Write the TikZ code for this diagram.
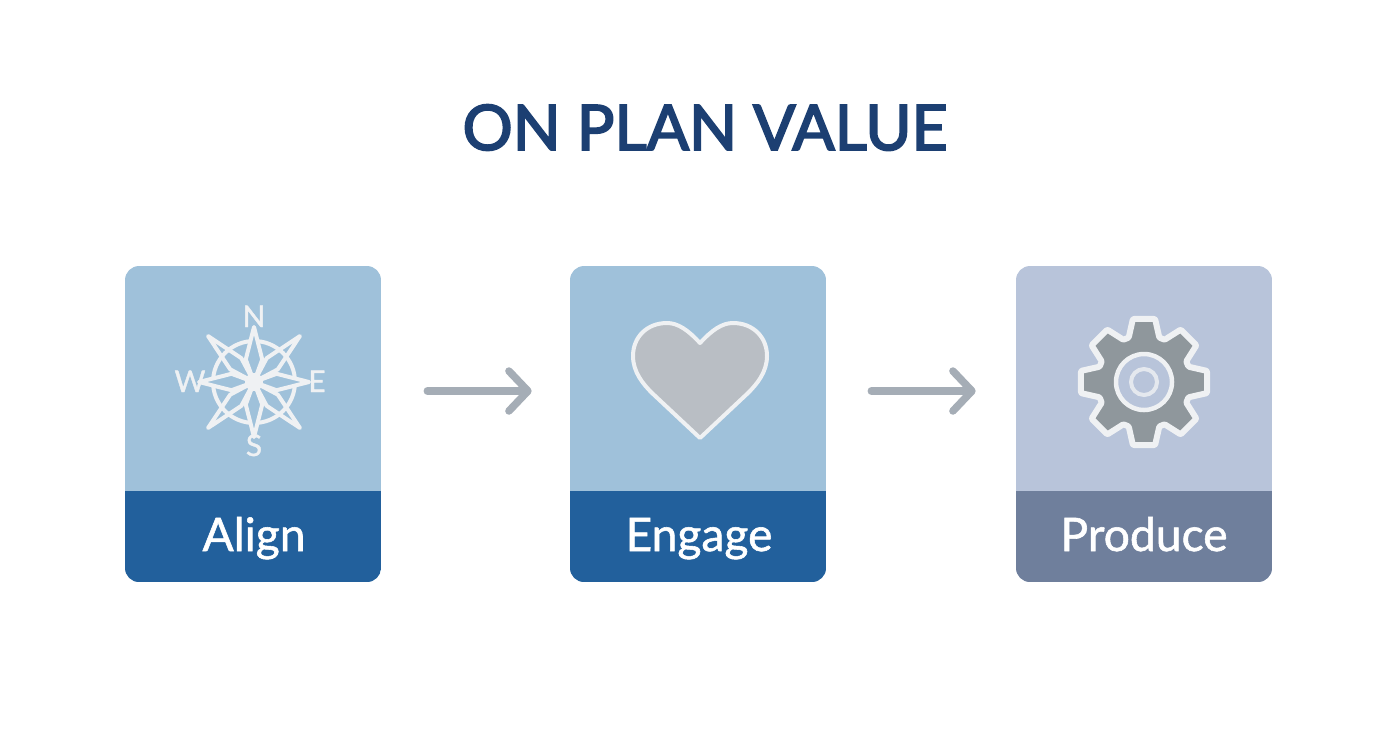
\documentclass[tikz,border=0pt]{standalone}
\usepackage{fontspec}
\setmainfont{Lato}
\newfontfamily\titlefont[FakeBold=3]{Lato}
\newfontfamily\labelfont[FakeBold=1.2]{Lato}
\usetikzlibrary{arrows.meta}
\definecolor{titleblue}{HTML}{1C3F72}
\definecolor{skycard}{HTML}{9FC1DA}
\definecolor{skyband}{HTML}{22609C}
\definecolor{slatecard}{HTML}{B8C4DA}
\definecolor{slateband}{HTML}{6F7F9C}
\definecolor{iconwhite}{HTML}{EFF1F3}
\definecolor{arrowgrey}{HTML}{A5ADB6}
\definecolor{heartgrey}{HTML}{B9BEC4}
\definecolor{geargrey}{HTML}{8F979C}

\begin{document}
\begin{tikzpicture}[x=0.02cm, y=-0.02cm,
    cardbox/.style n args={2}{rectangle, rounded corners=0.28cm, minimum width=5.12cm, minimum height=6.32cm, inner sep=0pt, fill=#1,
        path picture={\fill[#2, sharp corners] (path picture bounding box.south west) rectangle ([yshift=1.82cm]path picture bounding box.south east);}},
    cardlabel/.style={text=white, anchor=base, font=\labelfont\fontsize{26.3}{26.3}\selectfont},
    compassletter/.style={text=iconwhite, anchor=base, font=\labelfont\fontsize{17}{17}\selectfont},
    compassline/.style={draw=iconwhite, line width=0.08cm, line join=round},
    flowarrow/.style={draw=arrowgrey, line width=0.15cm, line cap=round, line join=round, -{Straight Barb[length=0.38cm, width=0.8cm, round]}}]
    \useasboundingbox (0,0) rectangle (1392,752);
    \fill[white] (0,0) rectangle (1392,752);
    % Titel
    \node[text=titleblue, anchor=base, font=\titlefont\fontsize{35.7}{35.7}\selectfont] (title) at (705,150) {ON PLAN VALUE};
    % Karten
    \node[cardbox={skycard}{skyband}] (align) at (253,424) {};
    \node[cardbox={skycard}{skyband}] (engage) at (698,424) {};
    \node[cardbox={slatecard}{slateband}] (produce) at (1144,424) {};
    \node[cardlabel] (alignlabel) at (254,551) {Align};
    \node[cardlabel] (engagelabel) at (699,551) {Engage};
    \node[cardlabel] (producelabel) at (1144,551) {Produce};
    % Pfeile
    \draw[flowarrow] ([shift={(46,-33)}]align.east) -- ([shift={(-38,-33)}]engage.west);
    \draw[flowarrow] ([shift={(45,-33)}]engage.east) -- ([shift={(-40,-33)}]produce.west);
    % Kompass
    \begin{scope}[shift={(254,382)}]
        \draw[compassline] (0,0) circle (41);
        \foreach \a in {0,90,180,270}
            \draw[compassline, fill=skycard] (\a:55) -- ({\a+20}:24) -- (0,0) -- ({\a-20}:24) -- cycle;
        \foreach \a in {45,135,225,315}
            \draw[compassline] (\a:65) -- ({\a+17}:27) -- (0,0) -- ({\a-17}:27) -- cycle;
        \fill[iconwhite] (0,0) circle (9);
        \node[compassletter] (north) at (0,-55) {N};
        \node[compassletter] (east) at (63,10) {E};
        \node[compassletter] (south) at (0,74) {S};
        \node[compassletter] (west) at (-64,10) {W};
    \end{scope}
    % Herz
    \draw[fill=heartgrey, draw=iconwhite, line width=0.08cm, line join=round]
        (700,343) .. controls (688,330) and (678,323) .. (667,323)
        .. controls (647,323) and (633,337) .. (633,356)
        .. controls (633,372) and (643,384) .. (652,393)
        -- (700,438) -- (748,393)
        .. controls (757,384) and (767,372) .. (767,356)
        .. controls (767,337) and (753,323) .. (733,323)
        .. controls (722,323) and (712,330) .. (700,343) -- cycle;
    % Zahnrad
    \begin{scope}[shift={(1144,382)}]
        \draw[fill=geargrey, draw=iconwhite, line width=0.12cm, line join=round, rounded corners=0.02cm]
            (-19:47) \foreach \a in {0,45,...,315} { -- ({\a-19}:47) -- ({\a-10}:64) -- ({\a+10}:64) -- ({\a+19}:47) } -- cycle;
        \draw[fill=slatecard, draw=iconwhite, line width=0.09cm] (0,0) circle (28);
        \draw[draw=iconwhite!80!slatecard, line width=0.08cm] (0,0) circle (13);
    \end{scope}
\end{tikzpicture}
\end{document}
